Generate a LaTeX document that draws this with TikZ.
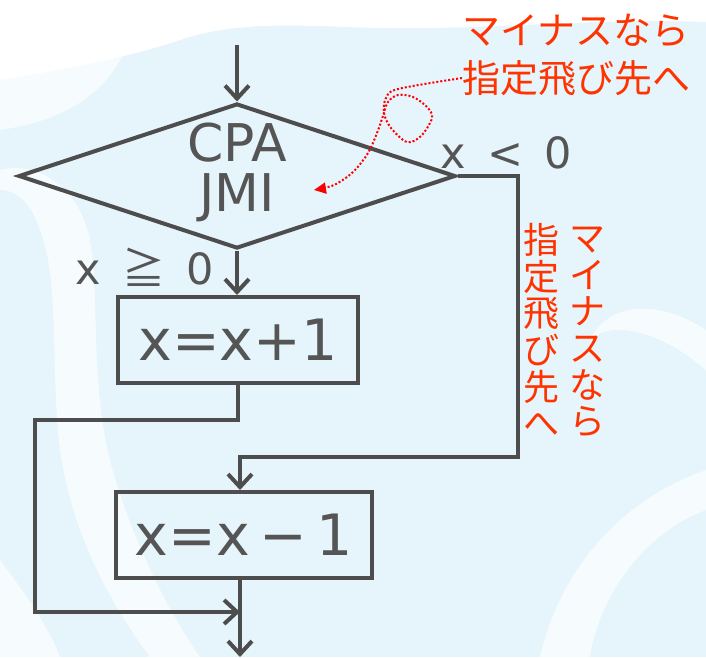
\documentclass[tikz,border=0pt]{standalone}
\usepackage{fontspec}
\setmainfont{DejaVu Sans}
\newfontfamily\jpfont{Noto Sans CJK JP}
\usetikzlibrary{shapes.geometric,arrows.meta}

\definecolor{lineg}{HTML}{4D4D4D}
\definecolor{textg}{HTML}{555555}
\definecolor{notered}{HTML}{FF3300}
\definecolor{wmblue}{HTML}{E6F4FB}

\tikzset{
	flow/.style={draw=lineg, line width=4pt},
	flowarrow/.style={flow, -{Straight Barb[length=13pt,width=24pt]}},
	procbox/.style={flow, rectangle, minimum height=86pt, inner sep=0pt, text=textg, font=\fontsize{57}{57}\selectfont},
	decision/.style={flow, diamond, minimum width=437pt, minimum height=145pt, inner sep=0pt},
	decisiontext/.style={align=center, inner sep=0pt, text=textg, font=\fontsize{52}{52}\selectfont},
	condlabel/.style={text=textg, inner sep=0pt, font=\fontsize{43}{43}\selectfont},
	note/.style={text=notered, inner sep=0pt, font=\fontsize{38}{38}\jpfont},
	vnote/.style={text=notered, inner sep=0pt, align=center, font=\fontsize{36}{36.6}\jpfont},
	hintarrow/.style={draw=red, line width=2pt, dotted, -{Triangle[length=12pt,width=11pt]}},
	swoosh/.style={fill=white, opacity=.65}
}

\begin{document}
\begin{tikzpicture}[x=1pt,y=-1pt]
	\useasboundingbox (0,0) rectangle (706,657);

	% watermark in the back
	\fill[wmblue] (0,0) rectangle (706,657);
	\fill[white] (0,0) -- (706,0) -- (706,22) .. controls (600,18) and (480,30) .. (380,28)
		.. controls (300,26) and (240,20) .. (180,40) .. controls (120,60) and (60,70) .. (0,80) -- cycle;
	\fill[swoosh] (0,80) .. controls (40,70) and (90,60) .. (130,40) .. controls (110,90) and (70,120) .. (0,130) -- cycle;
	\fill[swoosh] (0,170) .. controls (40,160) and (80,190) .. (90,240) .. controls (100,300) and (90,380) .. (110,460)
		.. controls (125,520) and (160,600) .. (200,657) -- (150,657) .. controls (100,590) and (70,520) .. (60,450)
		.. controls (50,370) and (60,280) .. (40,230) .. controls (30,200) and (15,190) .. (0,190) -- cycle;
	\fill[swoosh] (706,330) .. controls (660,300) and (610,300) .. (590,340) .. controls (610,320) and (660,330) .. (706,370) -- cycle;
	\fill[swoosh] (706,470) .. controls (620,500) and (560,570) .. (540,657) -- (590,657)
		.. controls (600,590) and (650,530) .. (706,510) -- cycle;
	\fill[swoosh] (0,560) .. controls (30,600) and (50,630) .. (60,657) -- (0,657) -- cycle;

	% nodes
	\coordinate (start) at (237,45);
	\node[decision] (cpa) at (237,176) {};
	\node[decisiontext] (cpatext) at (237,172) {CPA\\[-2pt]JMI};
	\node[procbox, minimum width=240pt] (inc) at (238,340) {x=x+1};
	\node[procbox, minimum width=256pt] (dec) at (244,535) {x=x\,−\,1};
	\coordinate (byp1) at (35,420);
	\coordinate (byp2) at (35,612);
	\coordinate (merge) at (240,612);
	\coordinate (jmp) at (518,457);
	\coordinate (stop) at (240,657);

	% branch labels
	\node[condlabel, anchor=base west] (neg) at (440,168) {x\enspace<\enspace0};
	\node[condlabel, anchor=base west] (pos) at (75,284) {x\enspace{\jpfont ≧}\enspace0};

	% notes
	\node[note, anchor=west] (note1) at (462,31) {マイナスなら};
	\node[note, anchor=west] (note2) at (462,78) {指定飛び先へ};
	\node[vnote] (vnote1) at (587,332) {マ\\イ\\ナ\\ス\\な\\ら};
	\node[vnote] (vnote2) at (541,330) {指\\定\\飛\\び\\先\\へ};

	% connectors
	\draw[flowarrow] (start) -- (cpa.north);
	\draw[flowarrow] (cpa.south) -- (cpa.south |- inc.north);
	\draw[flowarrow] (inc.south) |- (byp1) -- (byp2) -- (merge);
	\draw[flowarrow] (cpa.east) -| (jmp) -| ([xshift=-4pt]dec.north);
	\draw[flowarrow] ([xshift=-4pt]dec.south) -- (stop);

	\draw[hintarrow] plot[smooth, tension=.55] coordinates {(note2.west) (398,89) (386,98) (384,113) (391,128)
		(407,142) (421,136) (432,118) (427,107) (413,97) (398,95) (388,102) (383,116) (377,133)
		(368,153) (353,172) (334,185) (314,190)};
\end{tikzpicture}
\end{document}
